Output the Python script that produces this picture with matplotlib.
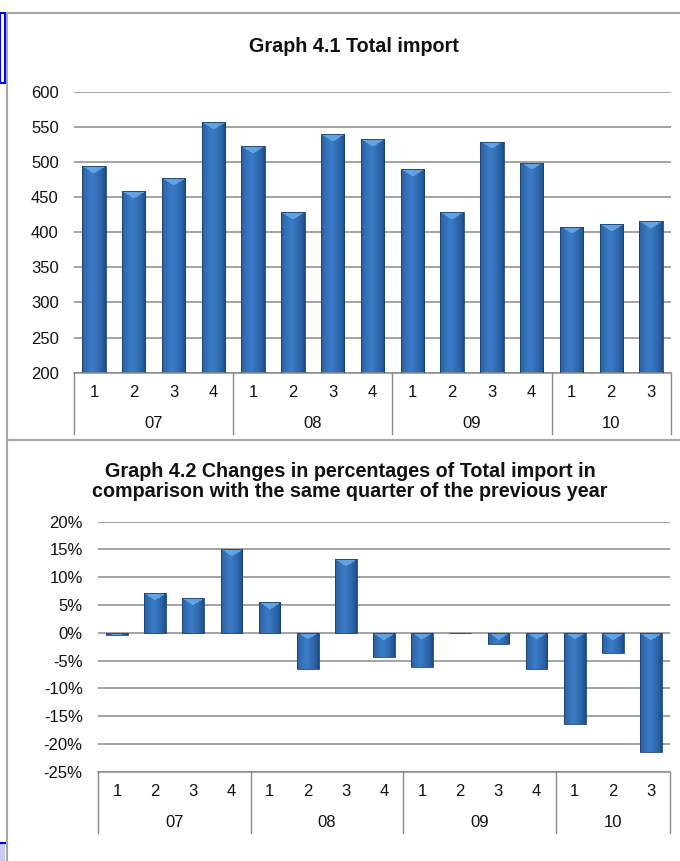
import numpy as np
import matplotlib
matplotlib.use("Agg")
from matplotlib import pyplot as plt
from matplotlib.lines import Line2D
from matplotlib.patches import Rectangle
from matplotlib.colors import to_rgb

plt.rcParams['font.family'] = ['Liberation Sans', 'DejaVu Sans']

# quarterly data, 2007 Q1 - 2010 Q3
quarters = ["1", "2", "3", "4", "1", "2", "3", "4", "1", "2", "3", "4", "1", "2", "3"]
years = ["07", "08", "09", "10"]
quarters_per_year = [4, 4, 4, 3]
total_import = [494, 459, 477, 557, 522, 429, 540, 533, 490, 429, 529, 499, 408, 412, 416]
change_pct = [-0.4, 7.2, 6.3, 15.0, 5.5, -6.6, 13.2, -4.3, -6.2, -0.1, -2.0, -6.5, -16.5, -3.6, -21.4]

W, H, DPI = 680, 861, 100
GRID = "#8a8a8a"
FRAME = "#a6a6a6"
DARK = np.array(to_rgb("#1c4a86"))
MID = np.array(to_rgb("#3b7cc6"))
CAP = np.array(to_rgb("#6cb0ec"))
TITLE_SIZE = 14.2


def fig_box(left, top, right, bottom):
    """Pixel box (from top-left) -> figure fraction [l, b, w, h]."""
    return [left / W, 1 - bottom / H, (right - left) / W, (bottom - top) / H]


def shaded_bars(ax, values, base, width):
    """Bars with a bevelled look: darker sides and a light chevron on top."""
    x = np.arange(len(values))
    bars = ax.bar(x, np.array(values) - base, bottom=base, width=width,
                  color="none", edgecolor="#1a3f70", linewidth=0.6, zorder=3)
    xlim, ylim = ax.get_xlim(), ax.get_ylim()
    for patch, val in zip(bars.patches, values):
        x0, x1 = patch.get_x(), patch.get_x() + patch.get_width()
        lo, hi = min(base, val), max(base, val)
        p0 = ax.transData.transform((x0, lo))
        p1 = ax.transData.transform((x1, hi))
        rows = max(int(round(abs(p1[1] - p0[1]))), 1)
        cols = max(int(round(abs(p1[0] - p0[0]))), 2)
        t = np.linspace(0, 1, cols)
        shade = np.clip(1 - np.abs(t - 0.42) / 0.58, 0, 1) ** 0.6
        row = DARK[None, :] * (1 - shade[:, None]) + MID[None, :] * shade[:, None]
        img = np.repeat(row[None, :, :], rows, axis=0)
        cap_h = min(7, rows)
        depth = cap_h * (1 - np.abs(t - 0.5) * 2)
        for r in range(cap_h):
            mask = r < depth
            img[r, mask] = CAP * 0.8 + img[r, mask] * 0.2
        im = ax.imshow(img, extent=(x0, x1, lo, hi), origin="upper",
                       aspect="auto", interpolation="bilinear", zorder=2.5)
        im.set_clip_path(patch)
    ax.set_xlim(xlim)
    ax.set_ylim(ylim)


def category_axis(ax, axes_h_px):
    """Two-level category axis: quarter numbers above year labels."""
    n = len(quarters)
    ax.set_xticks([])
    for i, q in enumerate(quarters):
        ax.annotate(q, (i, 0), xycoords=("data", "axes fraction"),
                    xytext=(0, -20), textcoords="offset pixels",
                    ha="center", va="center", fontsize=12, color="#111111")
    start = 0
    edges = [-0.5]
    for yr, cnt in zip(years, quarters_per_year):
        centre = start + (cnt - 1) / 2
        ax.annotate(yr, (centre, 0), xycoords=("data", "axes fraction"),
                    xytext=(0, -51), textcoords="offset pixels",
                    ha="center", va="center", fontsize=12, color="#111111")
        start += cnt
        edges.append(start - 0.5)
    drop = 61 / axes_h_px
    for e in edges:
        ax.plot([e, e], [0, -drop], transform=ax.get_xaxis_transform(),
                color=GRID, lw=1.0, clip_on=False)
    ax.set_xlim(-0.5, n - 0.5)


def style_axes(ax, ticks, fmt):
    ax.set_yticks(ticks)
    ax.set_yticklabels([fmt(v) for v in ticks])
    ax.tick_params(axis="y", length=0, pad=11, labelsize=12, labelcolor="#111111")
    ax.yaxis.grid(True, color=GRID, lw=1.1)
    ax.set_axisbelow(True)
    for side in ("left", "right", "top"):
        ax.spines[side].set_visible(False)
    ax.spines["bottom"].set_color(GRID)
    ax.spines["bottom"].set_linewidth(1.1)


fig = plt.figure(figsize=(W / DPI, H / DPI), dpi=DPI)

# page frame lines and margin markers
fig.add_artist(Line2D([7 / W, 7 / W], [0, 1 - 13 / H], transform=fig.transFigure,
                      color=FRAME, lw=1.5))
fig.add_artist(Line2D([7 / W, 1], [1 - 13 / H, 1 - 13 / H], transform=fig.transFigure,
                      color=FRAME, lw=1.5))
fig.add_artist(Line2D([7 / W, 1], [1 - 439.5 / H, 1 - 439.5 / H], transform=fig.transFigure,
                      color=FRAME, lw=1.5))
fig.add_artist(Rectangle((0, 1 - 83 / H), 5 / W, 70 / H, transform=fig.transFigure,
                         facecolor="white", edgecolor="#0000ee", lw=1.5))
fig.add_artist(Rectangle((0, 0), 5 / W, 18 / H, transform=fig.transFigure,
                         facecolor="#cacaf2", edgecolor="none"))
fig.add_artist(Line2D([0, 5 / W], [18 / H, 18 / H], transform=fig.transFigure,
                      color="#0000ee", lw=1.5))

# Graph 4.1
ax1 = fig.add_axes(fig_box(74, 91.7, 671, 372.7))
ax1.set_xlim(-0.5, len(quarters) - 0.5)
ax1.set_ylim(200, 600)
style_axes(ax1, np.arange(200, 601, 50), lambda v: f"{v:.0f}")
shaded_bars(ax1, total_import, 200, 0.585)
category_axis(ax1, 372.7 - 91.7)
fig.text(354 / W, 1 - 46.5 / H, "Graph 4.1 Total import", ha="center", va="center",
         fontsize=TITLE_SIZE, fontweight="bold", color="#111111")

# Graph 4.2
ax2 = fig.add_axes(fig_box(98, 521.7, 670, 771.7))
ax2.set_xlim(-0.5, len(quarters) - 0.5)
ax2.set_ylim(-25, 20)
style_axes(ax2, np.arange(-25, 21, 5), lambda v: f"{v:.0f}%")
shaded_bars(ax2, change_pct, 0, 0.57)
category_axis(ax2, 771.7 - 521.7)
fig.text(350 / W, 1 - 471.7 / H,
         "Graph 4.2 Changes in percentages of Total import in",
         ha="center", va="center", fontsize=TITLE_SIZE, fontweight="bold", color="#111111")
fig.text(350 / W, 1 - 491.7 / H,
         "comparison with the same quarter of the previous year",
         ha="center", va="center", fontsize=TITLE_SIZE, fontweight="bold", color="#111111")

fig.savefig("out.png", dpi=DPI)
